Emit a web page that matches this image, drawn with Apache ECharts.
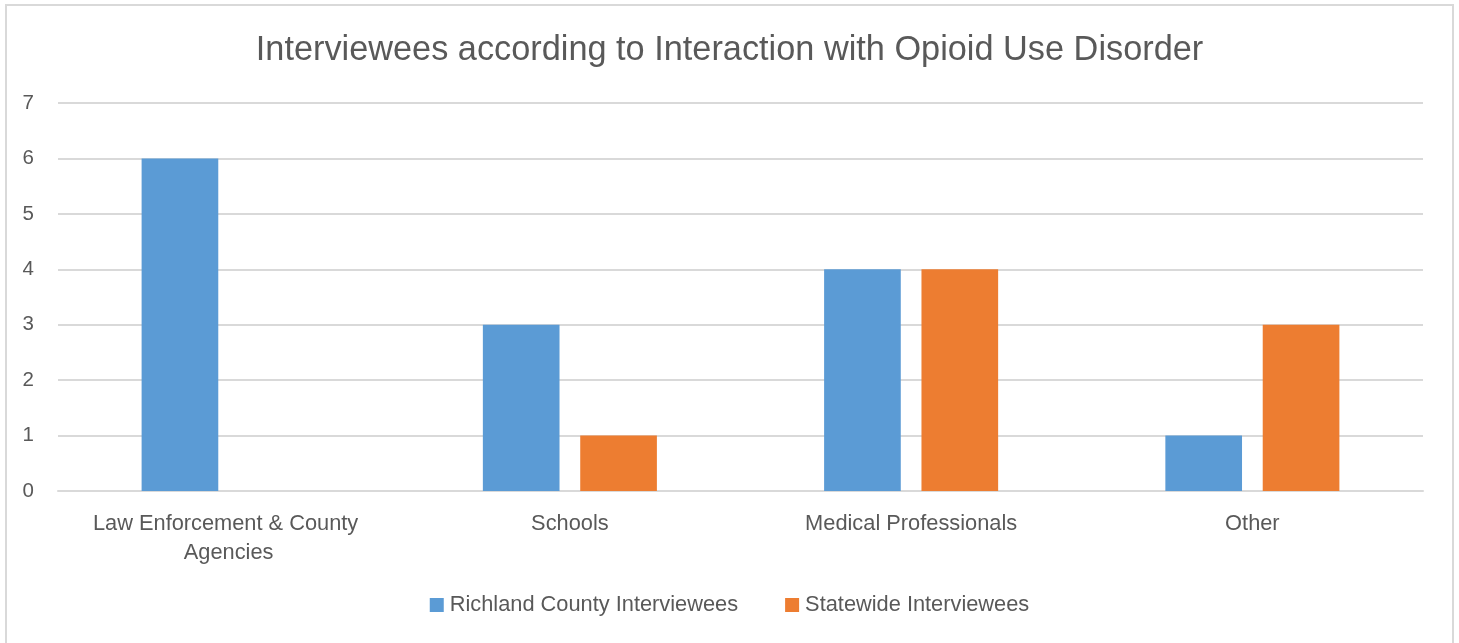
<!DOCTYPE html>
<html>
<head>
<meta charset="utf-8">
<script src="https://cdn.jsdelivr.net/npm/echarts@6/dist/echarts.min.js"></script>
<style>
  html, body { margin: 0; padding: 0; background: #fff; }
  #frame { position: absolute; left: 5px; top: 4px; width: 1449px; height: 640px; border: 2px solid #d9d9d9; box-sizing: border-box; border-bottom: none; }
  #chart { position: absolute; left: 0; top: 0; width: 1459px; height: 643px; }
</style>
</head>
<body>
<div id="frame"></div>
<div id="chart"></div>
<script>
const categories = ['Law Enforcement & County Agencies', 'Schools', 'Medical Professionals', 'Other'];
const richlandValues = [6, 3, 4, 1];
const statewideValues = [0, 1, 4, 3];
const seriesNames = ['Richland County Interviewees', 'Statewide Interviewees'];

const FONT = '"Liberation Sans", Arial, sans-serif';
const TEXT_COLOR = '#595959';
const chart = echarts.init(document.getElementById('chart'), null, { renderer: 'canvas' });
chart.setOption({
  animation: false,
  title: {
    text: 'Interviewees according to Interaction with Opioid Use Disorder',
    left: 'center',
    top: 29,
    textStyle: { fontFamily: FONT, fontSize: 34.3, fontWeight: 'normal', color: TEXT_COLOR }
  },
  grid: { left: 58, right: 36, top: 103, bottom: 152, containLabel: false },
  legend: {
    data: seriesNames,
    bottom: 22,
    left: 'center',
    itemWidth: 14,
    itemHeight: 14,
    itemGap: 47,
    icon: 'rect',
    textStyle: { fontFamily: FONT, fontSize: 21.8, color: TEXT_COLOR, padding: [0, 0, 0, 1] }
  },
  xAxis: {
    type: 'category',
    data: categories,
    axisLine: { show: true, lineStyle: { color: '#d9d9d9', width: 2 } },
    axisTick: { show: false },
    axisLabel: {
      fontFamily: FONT, fontSize: 21.8, color: TEXT_COLOR, margin: 18,
      width: 300, overflow: 'break', lineHeight: 29, interval: 0
    }
  },
  yAxis: {
    type: 'value',
    min: 0, max: 7, interval: 1,
    axisLine: { show: false },
    axisTick: { show: false },
    splitLine: { lineStyle: { color: '#d9d9d9', width: 2 } },
    axisLabel: { fontFamily: FONT, fontSize: 20.5, color: TEXT_COLOR, margin: 24, align: 'right' }
  },
  series: [
    {
      name: seriesNames[0], type: 'bar', data: richlandValues,
      itemStyle: { color: '#5b9bd5' }, barGap: '27%', barCategoryGap: '49%'
    },
    {
      name: seriesNames[1], type: 'bar', data: statewideValues,
      itemStyle: { color: '#ed7d31' }, barGap: '27%', barCategoryGap: '49%'
    }
  ]
});
</script>
</body>
</html>
